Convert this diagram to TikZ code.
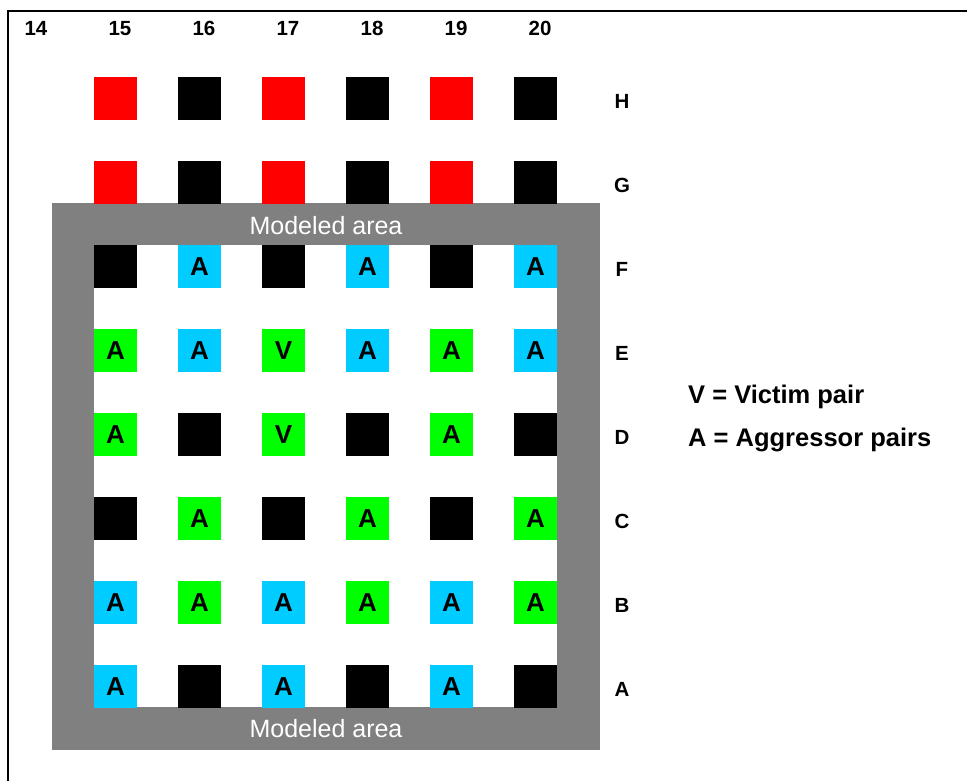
\documentclass[tikz,border=0pt]{standalone}
\usepackage{fontspec}
\setmainfont{Liberation Sans}
\usetikzlibrary{positioning}
\definecolor{rojoPin}{HTML}{FF0000}
\definecolor{cianPin}{HTML}{00CCFF}
\definecolor{verdePin}{HTML}{00FF00}
\definecolor{grisMarco}{HTML}{808080}
\tikzset{
  celdaBase/.style={
    rectangle, inner sep=0pt, minimum size=43pt,
    font=\fontsize{26}{30}\selectfont\bfseries, text=black
  },
  celdaRoja/.style={celdaBase, fill=rojoPin},
  celdaNegra/.style={celdaBase, fill=black},
  celdaCian/.style={celdaBase, fill=cianPin},
  celdaVerde/.style={celdaBase, fill=verdePin},
  etiquetaCol/.style={font=\fontsize{20.5}{24}\selectfont\bfseries, inner sep=0pt, anchor=base},
  etiquetaFila/.style={font=\fontsize{20.5}{24}\selectfont\bfseries, inner sep=0pt, anchor=base},
  etiquetaMarco/.style={font=\fontsize{25}{29}\selectfont, text=white, inner sep=0pt},
  textoLeyenda/.style={font=\fontsize{25.5}{29}\selectfont\bfseries, inner sep=0pt, anchor=base west},
}

\begin{document}
\begin{tikzpicture}[x=1pt, y=-1pt]
    \useasboundingbox (0,0) rectangle (967,780);
    % marco exterior (cortado a la derecha y abajo)
    \draw[line width=1.5pt] (8,800) -- (8,11) -- (990,11);
    % area modelada
    \fill[grisMarco] (52,203) rectangle (600,750);
    \fill[white] (94,245) rectangle (557,707);
    \node[etiquetaMarco] (marcoSup) at (326,226) {Modeled area};
    \node[etiquetaMarco] (marcoInf) at (326,729) {Modeled area};
    % numeros de columna
    \foreach \n [count=\i from 0] in {14,15,16,17,18,19,20}
      \node[etiquetaCol] (col\n) at (36+84*\i,35) {\n};
    % letras de fila
    \foreach \f/\y in {H/98.5, G/182.5, F/266.5, E/350.5, D/434.5, C/518.5, B/602.5, A/686.5}
      \node[etiquetaFila] (fila\f) at (622,\y+9.5) {\f};
    % celdas por fila
    \foreach \est/\txt [count=\i from 0] in {Roja/{},Negra/{},Roja/{},Negra/{},Roja/{},Negra/{}}
      \node[celda\est] (H\i) at (115.5+84*\i,98.5) {\txt};
    \foreach \est/\txt [count=\i from 0] in {Roja/{},Negra/{},Roja/{},Negra/{},Roja/{},Negra/{}}
      \node[celda\est] (G\i) at (115.5+84*\i,182.5) {\txt};
    \foreach \est/\txt [count=\i from 0] in {Negra/{},Cian/A,Negra/{},Cian/A,Negra/{},Cian/A}
      \node[celda\est] (F\i) at (115.5+84*\i,266.5) {\txt};
    \foreach \est/\txt [count=\i from 0] in {Verde/A,Cian/A,Verde/V,Cian/A,Verde/A,Cian/A}
      \node[celda\est] (E\i) at (115.5+84*\i,350.5) {\txt};
    \foreach \est/\txt [count=\i from 0] in {Verde/A,Negra/{},Verde/V,Negra/{},Verde/A,Negra/{}}
      \node[celda\est] (D\i) at (115.5+84*\i,434.5) {\txt};
    \foreach \est/\txt [count=\i from 0] in {Negra/{},Verde/A,Negra/{},Verde/A,Negra/{},Verde/A}
      \node[celda\est] (C\i) at (115.5+84*\i,518.5) {\txt};
    \foreach \est/\txt [count=\i from 0] in {Cian/A,Verde/A,Cian/A,Verde/A,Cian/A,Verde/A}
      \node[celda\est] (B\i) at (115.5+84*\i,602.5) {\txt};
    \foreach \est/\txt [count=\i from 0] in {Cian/A,Negra/{},Cian/A,Negra/{},Cian/A,Negra/{}}
      \node[celda\est] (A\i) at (115.5+84*\i,686.5) {\txt};
    % leyenda
    \node[textoLeyenda] (leyV) at (688,403) {V = Victim pair};
    \node[textoLeyenda] (leyA) at (688,446) {A = Aggressor pairs};
  \end{tikzpicture}
\end{document}
